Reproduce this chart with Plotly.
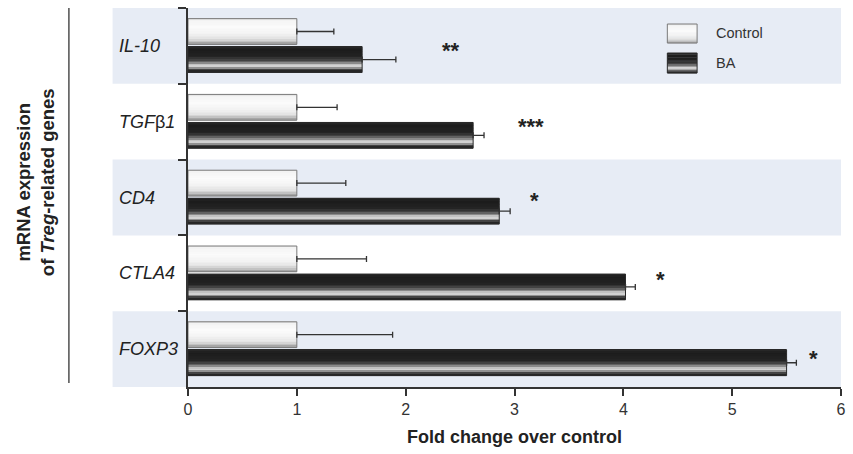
import plotly.graph_objects as go

genes = ["IL-10", "TGFβ1", "CD4", "CTLA4", "FOXP3"]
gene_labels = ["<i>IL-10</i>", "<i>TGF</i>β<i>1</i>", "<i>CD4</i>", "<i>CTLA4</i>", "<i>FOXP3</i>"]
control = [1.0, 1.0, 1.0, 1.0, 1.0]
control_err = [0.34, 0.37, 0.45, 0.64, 0.88]
ba = [1.60, 2.62, 2.86, 4.02, 5.50]
ba_err = [0.31, 0.10, 0.10, 0.09, 0.09]
stars = ["**", "***", "*", "*", "*"]
star_x = [2.42, 3.15, 3.18, 4.34, 5.75]
star_shift = [-5, -5, -3, -6, -9]

# gradient stops (fraction from top of bar, gray level)
ctrl_grad = [(0.0, 225), (0.1, 244), (0.35, 251), (0.6, 243), (0.8, 226), (0.92, 190), (1.0, 150)]
ba_grad = [(0.0, 40), (0.15, 28), (0.4, 35), (0.55, 70), (0.66, 140), (0.76, 232), (0.84, 150), (0.92, 50), (1.0, 30)]


def gray_at(grad, t):
    for (a, ga), (b, gb) in zip(grad[:-1], grad[1:]):
        if a <= t <= b:
            v = ga + (gb - ga) * (t - a) / (b - a)
            v = int(round(v))
            return f"rgb({v},{v},{v})"
    v = grad[-1][1]
    return f"rgb({v},{v},{v})"


fig = go.Figure()
N = 16
series = [
    ("Control", control, control_err, ctrl_grad, -0.36, -0.02, "#7a7a7a"),
    ("BA", ba, ba_err, ba_grad, 0.01, 0.35, "#2a2a2a"),
]
for name, vals, errs, grad, o0, o1, outline in series:
    h = (o1 - o0) / N
    for i in range(N):
        t = (i + 0.5) / N
        fig.add_trace(go.Bar(
            y=genes, x=vals, orientation="h", offset=o0 + i * h, width=h * 1.15,
            marker=dict(color=gray_at(grad, t), line=dict(width=0)),
            showlegend=False, hoverinfo="skip"))
    fig.add_trace(go.Bar(
        y=genes, x=vals, orientation="h", offset=o0, width=o1 - o0, name=name,
        marker=dict(color="rgba(0,0,0,0)", line=dict(color=outline, width=1)),
        error_x=dict(type="data", array=errs, arrayminus=[0] * len(errs), symmetric=False,
                     color="#333333", thickness=1.3, width=3),
        showlegend=False))

# plot geometry helpers (pixels)
L, R, T, B = 188, 7, 8, 67
W, H = 853, 454
pw, ph = W - L - R, H - T - B


def px_x(px):
    return (px - L) / pw


def px_y(py):
    return (H - B - py) / ph


shapes = []
# shaded bands
for k in [0, 2, 4]:
    shapes.append(dict(type="rect", xref="paper", yref="y", x0=px_x(112), x1=1.0,
                       y0=k - 0.5, y1=k + 0.5, fillcolor="#e7ecf5", line=dict(width=0), layer="below"))
# left vertical line
shapes.append(dict(type="line", xref="paper", yref="paper", x0=px_x(68), x1=px_x(68),
                   y0=px_y(8), y1=px_y(383), line=dict(color="#333333", width=1.3)))
# legend boxes with gradient
for (y0p, y1p, grad, outline) in [(24, 43, ctrl_grad, "#7a7a7a"), (53, 73, ba_grad, "#2a2a2a")]:
    n = 14
    hh = (y1p - y0p) / n
    for i in range(n):
        t = (i + 0.5) / n
        shapes.append(dict(type="rect", xref="paper", yref="paper", x0=px_x(671), x1=px_x(701),
                           y0=px_y(y0p + i * hh), y1=px_y(y0p + (i + 1) * hh + 0.3),
                           fillcolor=gray_at(grad, t), line=dict(width=0)))
    shapes.append(dict(type="rect", xref="paper", yref="paper", x0=px_x(671), x1=px_x(701),
                       y0=px_y(y0p), y1=px_y(y1p), line=dict(color=outline, width=1)))

annotations = []
for g, lab in zip(genes, gene_labels):
    annotations.append(dict(x=px_x(116), xref="paper", y=g, yref="y", text=lab, showarrow=False,
                            xanchor="left", yanchor="middle", font=dict(size=18, color="#222222")))
for g, s, sx, sh in zip(genes, stars, star_x, star_shift):
    annotations.append(dict(x=sx, y=g, xref="x", yref="y", text="<b>" + s + "</b>", showarrow=False,
                            xanchor="center", yanchor="middle", yshift=sh,
                            font=dict(size=22, color="#222222")))
annotations.append(dict(x=px_x(718), y=px_y(33), xref="paper", yref="paper", text="Control",
                        showarrow=False, xanchor="left", yanchor="middle", font=dict(size=14.5, color="#333333")))
annotations.append(dict(x=px_x(718), y=px_y(63), xref="paper", yref="paper", text="BA",
                        showarrow=False, xanchor="left", yanchor="middle", font=dict(size=14.5, color="#333333")))
annotations.append(dict(x=px_x(34), y=px_y(182), xref="paper", yref="paper",
                        text="<b>mRNA expression<br>of <i>Treg</i>-related genes</b>", textangle=-90,
                        showarrow=False, xanchor="center", yanchor="middle",
                        font=dict(size=18.5, color="#222222")))

fig.update_layout(
    width=W, height=H, margin=dict(l=L, r=R, t=T, b=B),
    paper_bgcolor="white", plot_bgcolor="white",
    barmode="overlay", showlegend=False,
    font=dict(family="Arial", color="#222222"),
    shapes=shapes, annotations=annotations,
    xaxis=dict(range=[0, 6], tickvals=[0, 1, 2, 3, 4, 5, 6], showgrid=False, zeroline=False,
               showline=True, linecolor="#333333", linewidth=1.5, ticks="outside", ticklen=7,
               tickcolor="#333333", tickwidth=1.5, tickfont=dict(size=16, color="#333333"),
               title=dict(text="<b>Fold change over control</b>", font=dict(size=18, color="#222222"), standoff=13)),
    yaxis=dict(type="category", categoryorder="array", categoryarray=genes, autorange="reversed",
               showticklabels=False, tickson="boundaries", ticks="outside", ticklen=8,
               tickcolor="#333333", tickwidth=1.5, showgrid=False, zeroline=False,
               showline=True, linecolor="#333333", linewidth=1.5, range=[4.5, -0.5]),
)

fig.write_html("out.html")
